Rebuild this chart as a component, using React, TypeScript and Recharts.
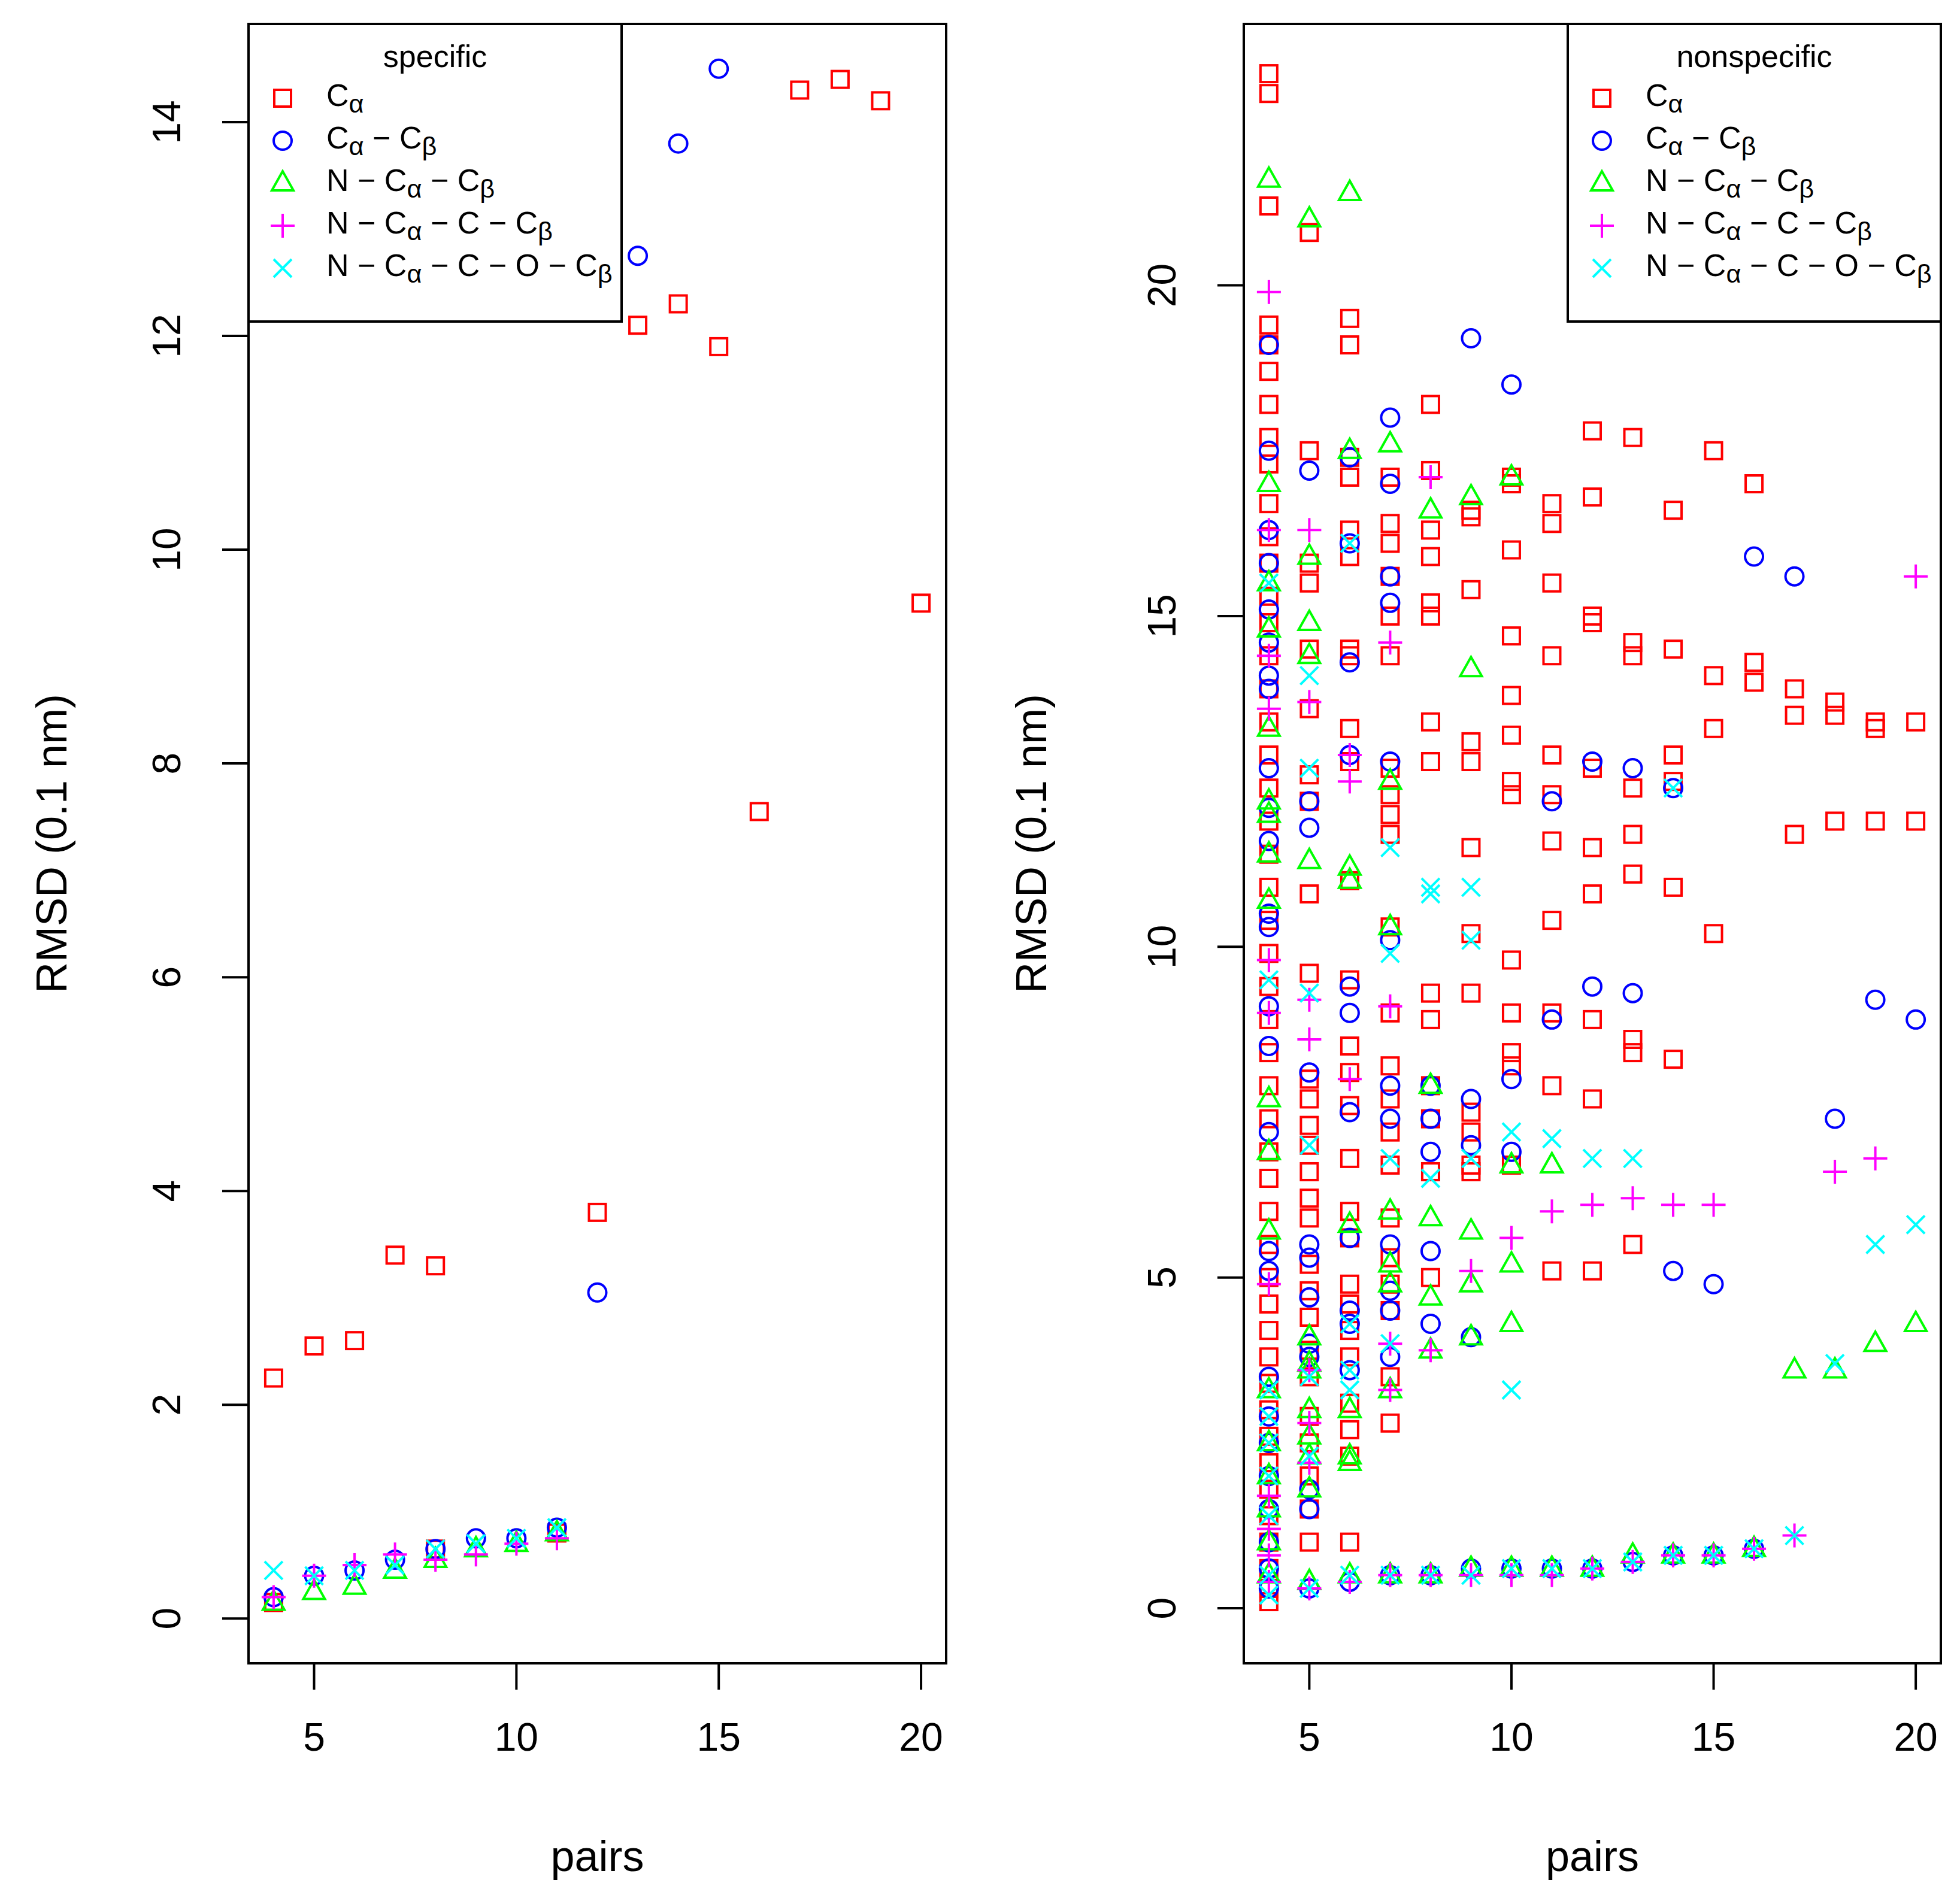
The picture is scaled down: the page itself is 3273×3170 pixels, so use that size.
import React from 'react';
import { ScatterChart, Scatter, XAxis, YAxis } from 'recharts';

type P = [number, number];

// ---- specific panel ----
const specCa: P[] = [[4, 0.15], [4, 2.25], [5, 2.55], [6, 2.6], [7, 3.4], [8, 3.3], [8, 0.65], [11, 0.8], [12, 3.8], [13, 12.1], [14, 12.3], [15, 11.9], [16, 7.55], [17, 14.3], [18, 14.4], [19, 14.2], [20, 9.5]];
const specCaCb: P[] = [[4, 0.2], [5, 0.4], [6, 0.45], [7, 0.55], [8, 0.65], [9, 0.75], [10, 0.75], [11, 0.85], [12, 3.05], [13, 12.75], [14, 13.8], [15, 14.5]];
const specNCaCb: P[] = [[4, 0.15], [5, 0.25], [6, 0.3], [7, 0.45], [8, 0.55], [9, 0.65], [10, 0.7], [11, 0.8]];
const specNCaCCb: P[] = [[4, 0.2], [5, 0.4], [6, 0.5], [7, 0.6], [8, 0.55], [9, 0.6], [10, 0.7], [11, 0.75]];
const specNCaCOCb: P[] = [[4, 0.45], [5, 0.4], [6, 0.45], [7, 0.5], [8, 0.65], [9, 0.7], [10, 0.75], [11, 0.85]];

// ---- nonspecific panel, values grouped by pairs ----
const nsCa: Record<number, number[]> = {
  4: [23.2, 22.9, 21.2, 19.4, 19.1, 18.7, 18.2, 17.7, 17.3, 16.7, 16.2, 15.8, 15.3, 14.9, 14.4, 13.9, 13.4, 12.9, 12.4, 11.9, 11.4, 10.9, 10.4, 9.9, 9.4, 8.9, 8.4, 7.9, 7.4, 6.9, 6.5, 6.0, 5.5, 5.0, 4.6, 4.2, 3.8, 3.4, 3.0, 2.6, 2.2, 1.8, 1.4, 1.0, 0.6, 0.3, 0.1],
  5: [20.8, 17.5, 15.8, 15.5, 14.5, 13.6, 12.6, 12.2, 10.8, 9.6, 8.0, 7.7, 7.3, 7.0, 6.6, 6.2, 5.9, 5.2, 4.8, 4.4, 3.9, 3.5, 2.9, 2.5, 2.0, 1.5, 1.0],
  6: [19.5, 19.1, 17.4, 17.1, 16.3, 15.9, 14.5, 14.4, 13.3, 12.8, 11.0, 9.5, 8.5, 8.1, 7.6, 6.8, 6.0, 5.6, 4.9, 4.6, 4.2, 3.8, 3.1, 2.7, 2.3, 1.0],
  7: [17.1, 16.4, 16.1, 15.6, 15.0, 14.4, 12.7, 12.3, 12.0, 11.7, 10.3, 9.0, 8.2, 7.7, 7.2, 6.7, 5.9, 5.3, 4.9, 4.5, 3.5, 2.8],
  8: [18.2, 17.2, 16.3, 15.9, 15.2, 15.0, 13.4, 12.8, 9.3, 8.9, 7.9, 7.4, 6.6, 5.0],
  9: [16.6, 16.5, 15.4, 13.1, 12.8, 11.5, 10.2, 9.3, 7.5, 7.2, 6.7, 6.6],
  10: [17.1, 17.0, 16.0, 14.7, 13.8, 13.2, 12.5, 12.3, 9.8, 9.0, 8.4, 8.2, 6.7],
  11: [16.7, 16.4, 15.5, 14.4, 12.9, 12.3, 11.6, 10.4, 9.0, 7.9, 5.1],
  12: [17.8, 16.8, 15.0, 14.9, 12.7, 11.5, 10.8, 8.9, 7.7, 5.1],
  13: [17.7, 14.6, 14.4, 12.4, 11.7, 11.1, 8.6, 8.4, 5.5],
  14: [16.6, 14.5, 12.9, 12.5, 10.9, 8.3],
  15: [17.5, 14.1, 13.3, 10.2],
  16: [17.0, 14.3, 14.0],
  17: [13.9, 13.5, 11.7],
  18: [13.7, 13.5, 11.9],
  19: [13.4, 13.3, 11.9],
  20: [13.4, 11.9],
};
const nsCaCb: Record<number, number[]> = {
  4: [19.1, 17.5, 16.3, 15.8, 15.1, 14.6, 14.1, 13.9, 12.7, 12.1, 11.6, 10.5, 10.3, 9.1, 8.5, 7.2, 5.4, 5.1, 3.5, 2.9, 2.5, 2.0, 1.5, 1.0, 0.6, 0.3],
  5: [17.2, 12.2, 11.8, 8.1, 5.5, 5.3, 4.7, 4.0, 3.8, 1.8, 1.5, 0.3],
  6: [17.4, 16.1, 14.3, 12.9, 9.4, 9.0, 7.5, 5.6, 4.5, 4.3, 3.6, 0.4],
  7: [18.0, 17.0, 15.6, 15.2, 12.8, 10.1, 7.9, 7.4, 5.5, 4.8, 4.5, 3.8, 0.5],
  8: [7.9, 7.4, 6.9, 5.4, 4.3, 0.5],
  9: [19.2, 7.7, 7.0, 4.1, 0.6],
  10: [18.5, 8.0, 6.9, 0.6],
  11: [12.2, 8.9, 0.6],
  12: [12.8, 9.4, 0.6],
  13: [12.7, 9.3, 0.7],
  14: [12.4, 5.1, 0.8],
  15: [4.9, 0.8],
  16: [15.9, 0.9],
  17: [15.6],
  18: [7.4],
  19: [9.2],
  20: [8.9],
};
const nsNCaCb: Record<number, number[]> = {
  4: [21.6, 17.0, 15.5, 14.8, 13.3, 12.2, 12.0, 11.4, 10.7, 7.7, 6.9, 5.7, 3.3, 2.5, 2.0, 1.5, 1.0, 0.5],
  5: [21.0, 15.9, 14.9, 14.4, 11.3, 4.1, 3.7, 3.6, 3.0, 2.6, 2.3, 1.8, 0.4],
  6: [21.4, 17.5, 11.2, 11.0, 5.8, 3.0, 2.3, 2.2, 0.5],
  7: [17.6, 12.5, 10.3, 6.0, 5.2, 4.9, 3.3, 0.5],
  8: [16.6, 7.9, 5.9, 4.7, 3.9, 0.5],
  9: [16.8, 14.2, 5.7, 4.9, 4.1, 0.6],
  10: [17.1, 6.7, 5.2, 4.3, 0.6],
  11: [6.7, 0.6],
  12: [0.6], 13: [0.8], 14: [0.8], 15: [0.8], 16: [0.9],
  17: [3.6], 18: [3.6], 19: [4.0], 20: [4.3],
};
const nsNCaCCb: Record<number, number[]> = {
  4: [19.9, 16.3, 14.4, 13.6, 9.8, 9.0, 4.9, 1.7, 1.2, 0.8, 0.4],
  5: [16.3, 13.7, 9.2, 8.6, 3.6, 2.8, 2.2, 0.3],
  6: [12.9, 12.5, 8.0, 0.4],
  7: [14.6, 9.1, 4.0, 3.3, 0.5],
  8: [17.1, 3.9, 0.5],
  9: [5.1, 0.5], 10: [5.6, 0.5], 11: [6.0, 0.5], 12: [6.1, 0.6], 13: [6.2, 0.7],
  14: [6.1, 0.8], 15: [6.1, 0.8], 16: [0.9], 17: [1.1], 18: [6.6], 19: [6.8], 20: [15.6],
};
const nsNCaCOCb: Record<number, number[]> = {
  4: [15.5, 9.5, 3.3, 2.9, 2.5, 2.0, 1.4, 0.5, 0.2],
  5: [14.1, 12.7, 9.3, 7.0, 3.5, 2.3, 0.3],
  6: [16.1, 4.3, 3.6, 3.3, 0.5],
  7: [11.5, 9.9, 6.8, 4.0, 0.5],
  8: [10.9, 10.8, 6.5, 0.5],
  9: [10.9, 10.1, 6.8, 0.5],
  10: [7.2, 3.3, 0.6], 11: [7.1, 0.6], 12: [6.8, 0.6], 13: [6.8, 0.7], 14: [12.4, 0.8],
  15: [0.8], 16: [0.9], 17: [1.1], 18: [3.7], 19: [5.5], 20: [5.8],
};

const xTicks = [5, 10, 15, 20];
const specYTicks = [0, 2, 4, 6, 8, 10, 12, 14];
const nsYTicks = [0, 5, 10, 15, 20];

const FONT = 'Liberation Sans, Arial, sans-serif';
const SW = 4;

const fromPairs = (p: P[]) => p.map(([x, y]) => ({ x, y }));
const fromGroups = (g: Record<number, number[]>) =>
  Object.entries(g).flatMap(([x, ys]) => ys.map((y) => ({ x: Number(x), y })));

type Kind = 'square' | 'circle' | 'triangle' | 'plus' | 'cross';

const Glyph = ({ kind, color, cx, cy }: { kind: Kind; color: string; cx: number; cy: number }) => {
  const p = { fill: 'none', stroke: color, strokeWidth: SW };
  if (kind === 'square') return <rect x={cx - 14} y={cy - 14} width={28} height={28} {...p} />;
  if (kind === 'circle') return <circle cx={cx} cy={cy} r={15} {...p} />;
  if (kind === 'triangle')
    return <polygon points={`${cx},${cy - 20} ${cx - 18},${cy + 12} ${cx + 18},${cy + 12}`} {...p} />;
  if (kind === 'plus')
    return <path d={`M${cx - 20},${cy}H${cx + 20}M${cx},${cy - 20}V${cy + 20}`} {...p} />;
  return <path d={`M${cx - 15},${cy - 15}L${cx + 15},${cy + 15}M${cx - 15},${cy + 15}L${cx + 15},${cy - 15}`} {...p} />;
};

const series: { kind: Kind; color: string; label: React.ReactNode }[] = [
  { kind: 'square', color: '#ff0000', label: <>C<sub>α</sub></> },
  { kind: 'circle', color: '#0000ff', label: <>C<sub>α</sub> − C<sub>β</sub></> },
  { kind: 'triangle', color: '#00ff00', label: <>N − C<sub>α</sub> − C<sub>β</sub></> },
  { kind: 'plus', color: '#ff00ff', label: <>N − C<sub>α</sub> − C − C<sub>β</sub></> },
  { kind: 'cross', color: '#00ffff', label: <>N − C<sub>α</sub> − C − O − C<sub>β</sub></> },
];

const YTick = (props: any) => {
  const { x, y, payload } = props;
  return (
    <text x={x} y={y} transform={`rotate(-90, ${x}, ${y})`} textAnchor="middle" fontSize={66} fontFamily={FONT} fill="#000">
      {payload.value}
    </text>
  );
};

const Legend = ({ title, left }: { title: string; left: number }) => (
  <div style={{ position: 'absolute', left, top: 38, width: 627, height: 501, border: `${SW}px solid #000`, boxSizing: 'border-box', background: '#fff', fontFamily: FONT, fontSize: 52 }}>
    <div style={{ position: 'absolute', top: 22, width: '100%', textAlign: 'center' }}>{title}</div>
    {series.map((s, i) => (
      <div key={i} style={{ position: 'absolute', top: 122 + i * 71 - 40, left: 0, height: 80, display: 'flex', alignItems: 'center', whiteSpace: 'nowrap' }}>
        <svg width={106} height={80} style={{ marginRight: 22 }}>
          <Glyph kind={s.kind} color={s.color} cx={55} cy={40} />
        </svg>
        <span>{s.label}</span>
      </div>
    ))}
  </div>
);

const Panel = ({ data, yDomain, yTicks, yAxisWidth, right, title }: any) => (
  <div style={{ position: 'relative', width: 1636, height: 3170 }}>
    <ScatterChart width={1636} height={3170} margin={{ top: 38, right, bottom: 0, left: 0 }}>
      <XAxis type="number" dataKey="x" domain={[3.35, 20.65]} ticks={xTicks} allowDataOverflow axisLine={false}
        tickLine={{ stroke: '#000', strokeWidth: SW }} tickSize={42} height={390} tickMargin={55}
        tick={{ fontSize: 66, fill: '#000', fontFamily: FONT }}
        label={{ value: 'pairs', position: 'insideBottom', offset: 45, fontSize: 72, fill: '#000', fontFamily: FONT }} />
      <YAxis type="number" dataKey="y" domain={yDomain} ticks={yTicks} allowDataOverflow axisLine={false}
        tickLine={{ stroke: '#000', strokeWidth: SW }} tickSize={42} width={yAxisWidth} tickMargin={70}
        tick={<YTick />}
        label={{ value: 'RMSD (0.1 nm)', angle: -90, position: 'insideLeft', offset: 85, fontSize: 72, fill: '#000', fontFamily: FONT, textAnchor: 'middle' }} />
      {data.map((d: any[], i: number) => (
        <Scatter key={i} data={d} isAnimationActive={false}
          shape={(p: any) => <Glyph kind={series[i].kind} color={series[i].color} cx={p.cx} cy={p.cy} />} />
      ))}
    </ScatterChart>
    <div style={{ position: 'absolute', left: yAxisWidth, top: 38, width: 1636 - yAxisWidth - right, height: 3170 - 38 - 390, border: `${SW}px solid #000`, boxSizing: 'border-box', pointerEvents: 'none' }} />
    <Legend title={title} left={title === 'specific' ? yAxisWidth : 1636 - right - 627} />
  </div>
);

export default function App() {
  const spec = [specCa, specCaCb, specNCaCb, specNCaCCb, specNCaCOCb].map(fromPairs);
  const ns = [nsCa, nsCaCb, nsNCaCb, nsNCaCCb, nsNCaCOCb].map(fromGroups);
  return (
    <div style={{ position: 'absolute', left: 0, top: 0, width: 3273, height: 3170, background: '#fff', display: 'flex' }}>
      <Panel data={spec} yDomain={[-0.43, 14.93]} yTicks={specYTicks} yAxisWidth={413} right={54} title="specific" />
      <Panel data={ns} yDomain={[-0.85, 23.97]} yTicks={nsYTicks} yAxisWidth={439} right={29} title="nonspecific" />
    </div>
  );
}
